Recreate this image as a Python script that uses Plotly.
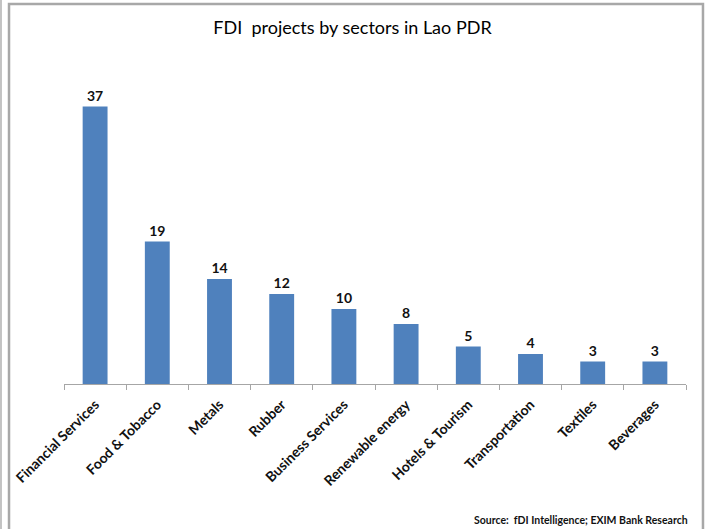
import plotly.graph_objects as go

categories = ["Financial Services", "Food & Tobacco", "Metals", "Rubber", "Business Services",
              "Renewable energy", "Hotels & Tourism", "Transportation", "Textiles", "Beverages"]
values = [37, 19, 14, 12, 10, 8, 5, 4, 3, 3]

fig = go.Figure(go.Bar(
    x=categories, y=values,
    marker=dict(color="#4F81BD", line=dict(width=0)),
    text=[f"<b>{v}</b>" for v in values], textposition="outside",
    textfont=dict(family="Lato", size=14, color="#111111"),
    cliponaxis=False,
))

fig.update_layout(
    width=705, height=529,
    margin=dict(l=64, r=19, t=84, b=145, autoexpand=False),
    paper_bgcolor="white", plot_bgcolor="white",
    bargap=0.6,
    showlegend=False,
    title=dict(text="FDI  projects by sectors in Lao PDR", x=0.5, xanchor="center",
               y=0.947, yanchor="middle",
               font=dict(family="Lato", size=18, color="#000000")),
    xaxis=dict(tickangle=-45, showline=True, linecolor="#a6a6a6", linewidth=1,
               ticks="outside", ticklen=5, tickcolor="#a6a6a6",
               tickson="boundaries", automargin=False,
               ticklabelstandoff=6,
               tickvals=categories,
               ticktext=[f"<b>{c}</b>" for c in categories],
               tickfont=dict(family="Lato", size=14, color="#111111"),
               showgrid=False),
    yaxis=dict(range=[0, 40], visible=False, showgrid=False, automargin=False),
    shapes=[
        dict(type="rect", xref="paper", yref="paper",
             x0=-0.0884, x1=1.0273, y0=-0.6, y1=1.2667,
             line=dict(color="#a8a8a8", width=2.5), fillcolor="rgba(0,0,0,0)"),
        dict(type="line", xref="paper", yref="paper",
             x0=-0.1013, x1=-0.1013, y0=-0.6, y1=1.4,
             line=dict(color="#b0b0b0", width=1.5)),
    ],
    annotations=[dict(text="<b>Source:  fDI Intelligence; EXIM Bank Research</b>",
                      xref="paper", yref="paper", x=1.0064, y=-0.453,
                      xanchor="right", yanchor="middle", showarrow=False,
                      font=dict(family="Lato", size=10.5, color="#111111"))],
)

fig.write_html("out.html", config={"displayModeBar": False},
               post_script="document.body.style.margin='0';document.body.style.overflow='hidden';")
